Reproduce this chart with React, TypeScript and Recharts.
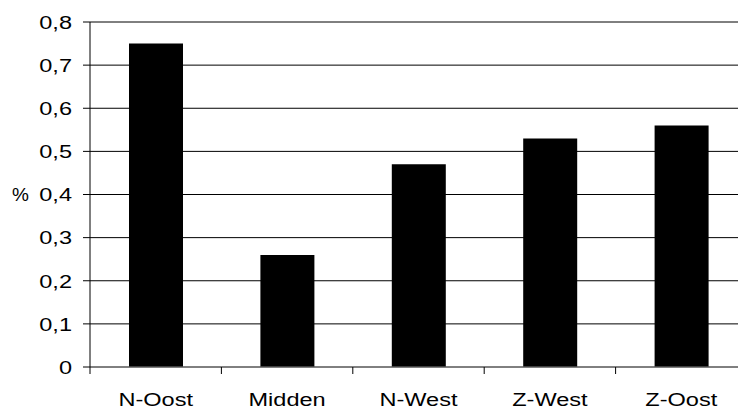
import { Bar, BarChart, CartesianGrid, Label, XAxis, YAxis } from 'recharts';

const REGIONS = ['N-Oost', 'Midden', 'N-West', 'Z-West', 'Z-Oost'];
const SHARES = [0.75, 0.26, 0.47, 0.53, 0.56];
const Y_TICKS = [0, 0.1, 0.2, 0.3, 0.4, 0.5, 0.6, 0.7, 0.8];

const data = REGIONS.map((name, i) => ({ name, value: SHARES[i] }));

const FONT = 'Arial, "Liberation Sans", sans-serif';
// the original text is drawn a bit wider than plain Arial
const STRETCH = 1.24;

const fmt = (v: number) => (v === 0 ? '0' : v.toFixed(1).replace('.', ','));

function RegionTick(props: any) {
  const { x, y, payload } = props;
  const half = payload?.offset || 65.7;
  const left = x - half;
  return (
    <g>
      <line x1={left} y1={y - 7} x2={left} y2={y} stroke="#000" strokeWidth={1} />
      <text
        transform={`translate(${x},${y + 19}) scale(${STRETCH},1)`}
        dy="0.71em"
        textAnchor="middle"
        fontSize={19}
        fontFamily={FONT}
        fill="#000"
      >
        {payload.value}
      </text>
    </g>
  );
}

function ValueTick(props: any) {
  const { x, y, payload } = props;
  return (
    <text
      transform={`translate(${x},${y}) scale(${STRETCH},1)`}
      dy="0.355em"
      textAnchor="end"
      fontSize={19}
      fontFamily={FONT}
      fill="#000"
    >
      {fmt(payload.value)}
    </text>
  );
}

function UnitLabel(props: any) {
  const vb = props.viewBox || { x: 0, y: 22, height: 345 };
  return (
    <text x={vb.x + 12} y={vb.y + vb.height / 2} dy="0.355em" fontSize={19} fontFamily={FONT} fill="#000">
      %
    </text>
  );
}

export default function App() {
  return (
    <div style={{ position: 'absolute', top: 0, left: 0, width: 738, height: 410, overflow: 'hidden', background: '#fff' }}>
      <BarChart width={760} height={410} data={data} margin={{ top: 22, right: 13, bottom: 0, left: 0 }}>
        <CartesianGrid vertical={false} stroke="#000" strokeWidth={1} />
        <XAxis
          dataKey="name"
          height={43}
          axisLine={{ stroke: '#808080' }}
          tickLine={false}
          tickSize={7}
          tickMargin={0}
          tick={<RegionTick />}
          interval={0}
        />
        <YAxis
          width={90}
          domain={[0, 0.8]}
          ticks={Y_TICKS}
          axisLine={{ stroke: '#000' }}
          tickLine={{ stroke: '#000' }}
          tickSize={7}
          tickMargin={11}
          tick={<ValueTick />}
        >
          <Label content={<UnitLabel />} />
        </YAxis>
        <Bar dataKey="value" fill="#000" barSize={54} isAnimationActive={false} />
      </BarChart>
    </div>
  );
}
